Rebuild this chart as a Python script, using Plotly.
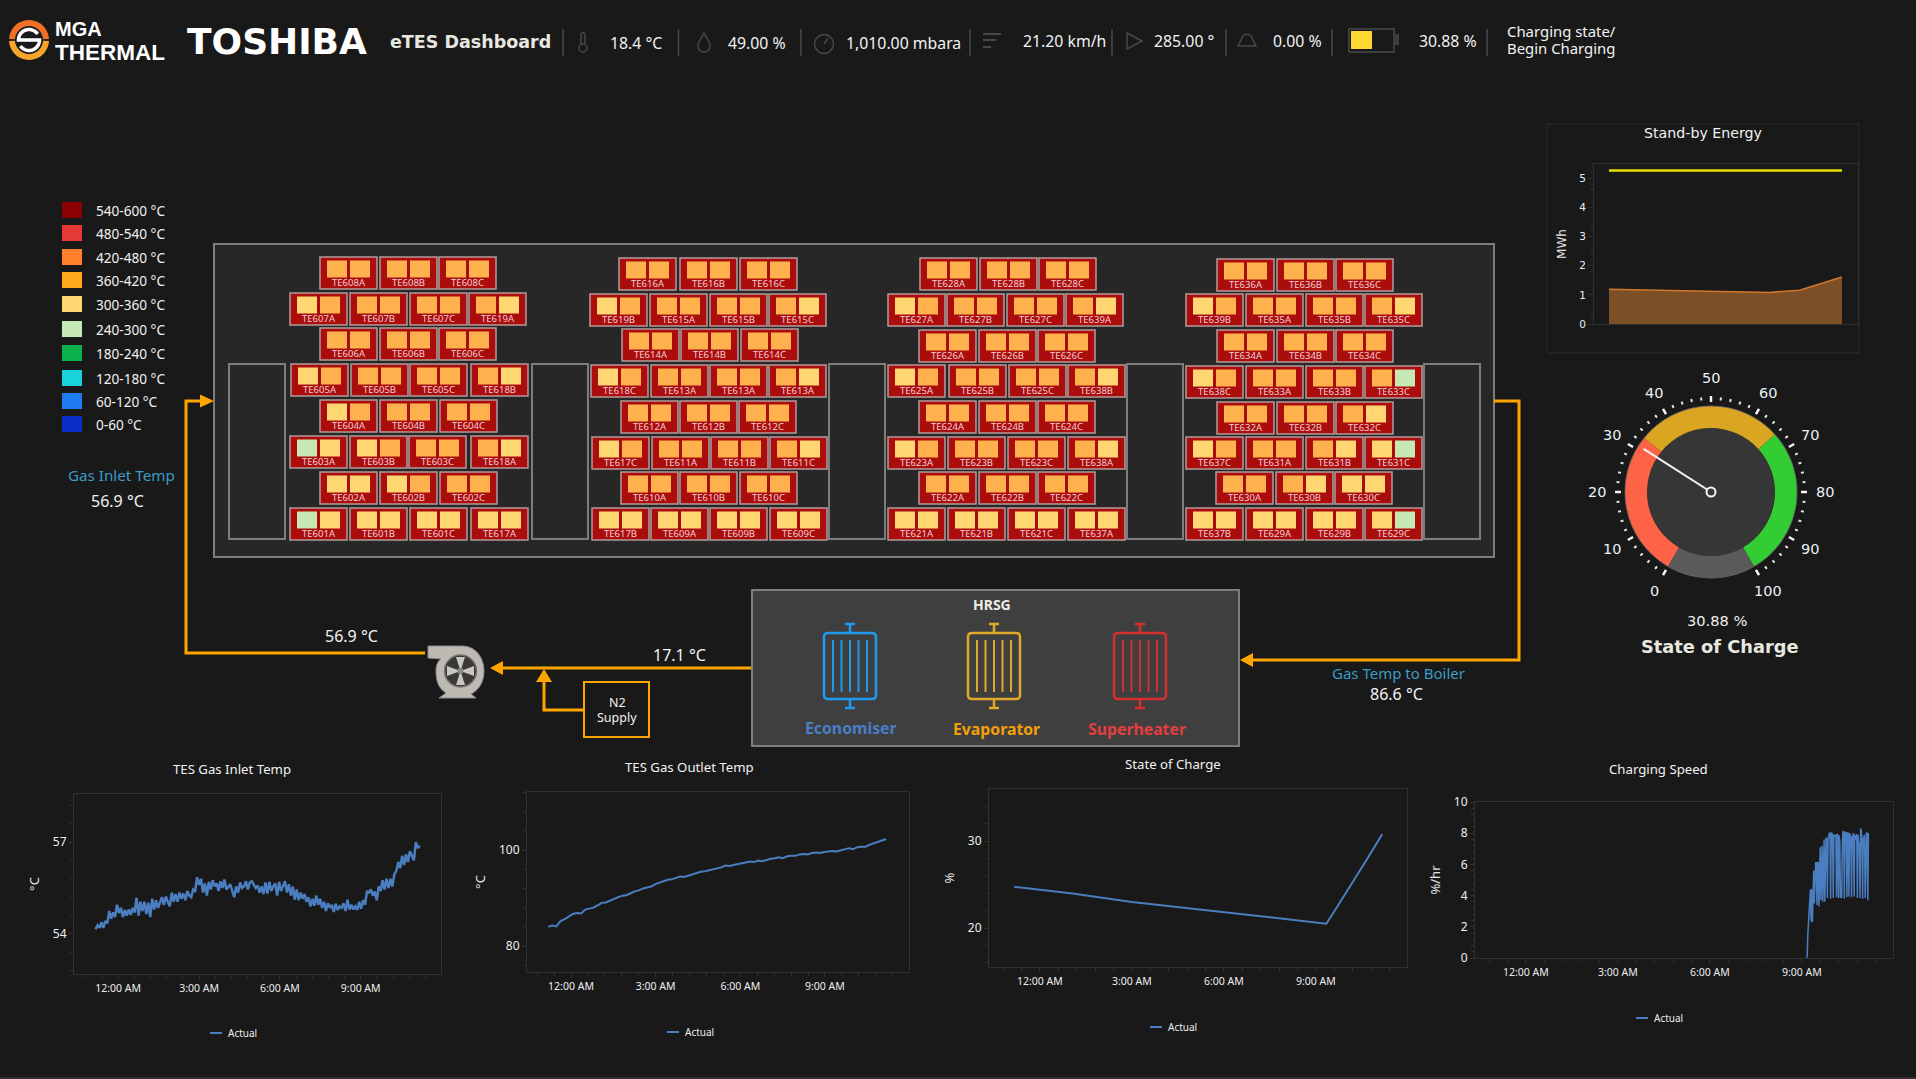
import math
import pandas as pd
import plotly.graph_objects as go

W, H = 1916, 1079
BG = "#191919"
SANS = "Noto Sans"
WIDE = "DejaVu Sans"

# ---------- data ----------
LEGEND_LABELS = ["540-600 °C", "480-540 °C", "420-480 °C", "360-420 °C", "300-360 °C",
                 "240-300 °C", "180-240 °C", "120-180 °C", "60-120 °C", "0-60 °C"]
LEGEND_COLORS = ["#8B0000", "#E53935", "#FF7F2A", "#FFA91F", "#FFD671",
                 "#C6E8B4", "#0DB14B", "#19D3DA", "#1E7CF0", "#0A2FC8"]
BAND_COLORS = {"O": "#FFB14E", "Y": "#FFD671", "G": "#C6E8B4"}

TAGS_BANK1 = [["TE608A", "TE608B", "TE608C"], ["TE607A", "TE607B", "TE607C", "TE619A"],
              ["TE606A", "TE606B", "TE606C"], ["TE605A", "TE605B", "TE605C", "TE618B"],
              ["TE604A", "TE604B", "TE604C"], ["TE603A", "TE603B", "TE603C", "TE618A"],
              ["TE602A", "TE602B", "TE602C"], ["TE601A", "TE601B", "TE601C", "TE617A"]]
BANDS_BANK1 = [["OO", "OO", "OO"], ["YO", "OO", "OO", "OY"], ["OO", "OO", "OO"], ["YO", "OO", "OO", "OY"],
               ["YO", "OO", "OO"], ["GY", "YO", "OO", "OY"], ["YY", "YO", "OO"], ["GY", "YY", "YY", "YY"]]
TAGS_BANK2 = [["TE616A", "TE616B", "TE616C"], ["TE619B", "TE615A", "TE615B", "TE615C"],
              ["TE614A", "TE614B", "TE614C"], ["TE618C", "TE613A", "TE613A", "TE613A"],
              ["TE612A", "TE612B", "TE612C"], ["TE617C", "TE611A", "TE611B", "TE611C"],
              ["TE610A", "TE610B", "TE610C"], ["TE617B", "TE609A", "TE609B", "TE609C"]]
BANDS_BANK2 = [["OO", "OO", "OO"], ["YO", "OO", "OO", "OY"], ["OO", "OO", "OO"], ["YO", "OO", "OO", "OY"],
               ["OO", "OO", "OO"], ["YO", "OO", "OO", "OY"], ["OO", "OO", "OO"], ["YY", "YY", "YY", "YY"]]
TAGS_BANK3 = [["TE628A", "TE628B", "TE628C"], ["TE627A", "TE627B", "TE627C", "TE639A"],
              ["TE626A", "TE626B", "TE626C"], ["TE625A", "TE625B", "TE625C", "TE638B"],
              ["TE624A", "TE624B", "TE624C"], ["TE623A", "TE623B", "TE623C", "TE638A"],
              ["TE622A", "TE622B", "TE622C"], ["TE621A", "TE621B", "TE621C", "TE637A"]]
BANDS_BANK3 = [["OO", "OO", "OO"], ["YO", "OO", "OO", "OY"], ["OO", "OO", "OO"], ["YO", "OO", "OO", "OY"],
               ["OO", "OO", "OO"], ["YO", "OO", "OO", "OY"], ["OO", "OO", "OO"], ["YY", "YY", "YY", "YY"]]
TAGS_BANK4 = [["TE636A", "TE636B", "TE636C"], ["TE639B", "TE635A", "TE635B", "TE635C"],
              ["TE634A", "TE634B", "TE634C"], ["TE638C", "TE633A", "TE633B", "TE633C"],
              ["TE632A", "TE632B", "TE632C"], ["TE637C", "TE631A", "TE631B", "TE631C"],
              ["TE630A", "TE630B", "TE630C"], ["TE637B", "TE629A", "TE629B", "TE629C"]]
BANDS_BANK4 = [["OO", "OO", "OO"], ["YO", "OO", "OO", "OY"], ["OO", "OO", "OO"], ["YO", "OO", "OO", "OG"],
               ["OO", "OO", "OY"], ["YO", "OO", "OY", "YG"], ["OO", "OY", "YY"], ["YY", "YY", "YY", "YG"]]

STANDBY_HOURS = [0, 2.17, 5.13, 7.93, 9.41, 11.5]
STANDBY_ENERGY = [1.195, 1.16, 1.11, 1.085, 1.16, 1.61]
STANDBY_LIMIT = [5.27, 5.27, 5.27, 5.27, 5.27, 5.27]

SOC_NOW = 30.88
GAUGE_BANDS = [33, 33, 34, 20]
GAUGE_COLORS = ["#FF6347", "#DAA520", "#32CD32", "#5A5A5A"]

INLET_TEMP = [54.15, 54.28, 54.2, 54.38, 54.2, 54.42, 54.35, 54.75, 54.5, 54.7, 54.55,
              54.95, 54.68, 54.85, 54.55, 54.78, 54.6, 54.8, 54.62, 54.85, 54.7, 55.18, 54.6, 55.05, 54.75,
              55.05, 54.65, 55.02, 54.55, 55.15, 54.8, 55.1, 54.85, 55.05, 55.2, 54.95, 55.22, 55.05, 54.9,
              55.35, 55.05, 55.3, 55.05, 55.35, 55.15, 55.32, 55.1, 55.4, 55.25, 55.2, 55.45, 55.4, 55.85,
              55.6, 55.8, 55.35, 55.65, 55.25, 55.7, 55.45, 55.75, 55.55, 55.65, 55.4, 55.72, 55.5, 55.78,
              55.45, 55.55, 55.62, 55.4, 55.2, 55.55, 55.35, 55.68, 55.5, 55.55, 55.72, 55.45, 55.68, 55.72,
              55.6, 55.5, 55.58, 55.35, 55.55, 55.3, 55.68, 55.32, 55.7, 55.4, 55.55, 55.65, 55.25, 55.7,
              55.4, 55.55, 55.72, 55.35, 55.62, 55.25, 55.55, 55.12, 55.45, 55.1, 55.35, 55.15, 55.3, 55.05,
              55.2, 54.9, 55.15, 54.92, 55.25, 54.95, 55.15, 54.85, 55.05, 54.75, 55.0, 54.85, 54.95, 54.72,
              54.98, 54.78, 54.9, 54.85, 55.0, 54.75, 55.12, 54.8, 54.95, 54.8, 54.9, 54.78, 55.05, 54.82,
              55.1, 54.95, 55.4, 55.35, 55.45, 55.25, 55.38, 55.1, 55.55, 55.4, 55.75, 55.45, 55.8, 55.5,
              55.8, 55.55, 55.95, 56.05, 56.35, 56.15, 56.55, 56.25, 56.6, 56.35, 56.7, 56.55, 56.4, 57.0, 56.8, 56.88]
OUTLET_TEMP = [84.0, 84.3, 84.1, 85.2, 85.6, 86.1, 86.7, 86.9, 86.8, 87.6, 87.8, 88.0, 88.5, 89.0, 89.1, 89.5,
               89.9, 90.2, 90.5, 90.6, 91.0, 91.4, 91.6, 92.0, 92.2, 92.4, 92.9, 93.2, 93.5, 93.8, 93.9, 94.2,
               94.5, 94.4, 94.7, 95.0, 95.3, 95.5, 95.6, 95.8, 96.1, 96.3, 96.4, 96.8, 96.7, 96.9, 97.1, 97.3,
               97.5, 97.6, 97.5, 97.8, 97.7, 98.0, 98.2, 98.3, 98.5, 98.3, 98.7, 98.8, 98.8, 99.1, 99.2, 99.1,
               99.4, 99.5, 99.4, 99.6, 99.7, 99.8, 99.7, 99.9, 100.2, 100.4, 100.2, 100.6, 100.7, 100.7, 101.1,
               101.4, 101.7, 102.0, 102.3]
SOC_HOURS = [-0.84, 1, 3, 5, 7, 9.34, 9.74, 10.34, 10.7, 11.16]
SOC_VALUES = [24.75, 24.0, 23.0, 22.2, 21.4, 20.5, 22.7, 26.0, 28.1, 30.77]
SPEED_VALUES = [0, 0.1, 1.5, 2.2, 3.0, 3.8, 4.4, 2.35, 4.4, 2.3, 5.4, 5.6, 3.5, 5.9, 6.1, 6.1, 3.4, 6.1, 6.15, 3.3, 7.0,
                7.1, 3.7, 7.15, 7.2, 3.6, 7.2, 7.6, 3.6, 7.6, 7.7, 7.65, 3.85, 7.6, 7.9, 8.0, 8.0, 3.8, 8.05, 8.0, 7.9,
                3.85, 7.9, 7.85, 7.8, 7.9, 3.9, 7.95, 7.9, 3.85, 7.85, 7.5, 3.9, 3.9, 3.9, 7.5, 8.15, 8.0, 3.8, 8.1,
                8.05, 8.0, 3.9, 8.05, 8.0, 3.95, 8.0, 7.9, 7.7, 3.9, 7.7, 7.9, 8.0, 3.95, 7.9, 7.7, 7.6, 7.95, 3.85,
                7.9, 7.3, 7.4, 3.85, 8.3, 8.2, 7.6, 3.8, 7.6, 7.7, 7.9, 3.85, 7.9, 8.05, 8.0, 3.7, 8.0]

# ---------- layout tables (pixel positions of the schematic) ----------
BANK1_TOPS = [257, 293, 328, 364, 400, 436, 472, 508]
BANK1_LEFTS = [[320, 380, 439], [290, 350, 410, 469], [320, 380, 439], [291, 351, 410, 471],
               [320, 380, 440], [290, 350, 409, 471], [320, 380, 440], [290, 350, 410, 471]]
BANK2_TOPS = [258, 294, 329, 365, 401, 437, 472, 508]
BANK2_LEFTS = [[619, 680, 740], [590, 650, 710, 769], [622, 681, 741], [591, 651, 710, 769],
               [621, 680, 739], [592, 652, 711, 770], [621, 680, 740], [592, 651, 710, 770]]
BANK3_TOPS = [258, 294, 330, 365, 401, 437, 472, 508]
BANK3_LEFTS = [[920, 980, 1039], [888, 947, 1007, 1066], [919, 979, 1038], [888, 949, 1009, 1068],
               [919, 979, 1038], [888, 948, 1008, 1068], [919, 979, 1038], [888, 948, 1008, 1068]]
BANK4_TOPS = [259, 294, 330, 366, 402, 437, 472, 508]
BANK4_LEFTS = [[1217, 1277, 1336], [1186, 1246, 1306, 1365], [1217, 1277, 1336], [1186, 1246, 1306, 1365],
               [1217, 1277, 1336], [1186, 1246, 1306, 1365], [1216, 1276, 1335], [1186, 1246, 1306, 1365]]

shapes, notes = [], []


def rect(x0, y0, x1, y1, fill=None, line=None, lw=1, layer="below"):
    shapes.append(dict(type="rect", xref="x", yref="y", x0=x0, y0=y0, x1=x1, y1=y1, layer=layer,
                       fillcolor=fill or "rgba(0,0,0,0)",
                       line=dict(color=line or "rgba(0,0,0,0)", width=lw if line else 0)))


def path(d, fill=None, line=None, lw=1, layer="below"):
    shapes.append(dict(type="path", xref="x", yref="y", path=d, layer=layer,
                       fillcolor=fill or "rgba(0,0,0,0)",
                       line=dict(color=line or "rgba(0,0,0,0)", width=lw if line else 0)))


def poly(points, close=False):
    d = "M" + " L".join(f"{a:.2f},{b:.2f}" for a, b in points)
    return d + (" Z" if close else "")


def arc(cx, cy, r, a0, a1, n=24):
    # angles in degrees, measured clockwise from the top
    return [(cx + r * math.sin(math.radians(a0 + (a1 - a0) * i / n)),
             cy - r * math.cos(math.radians(a0 + (a1 - a0) * i / n))) for i in range(n + 1)]


def circle(cx, cy, r, fill=None, line=None, lw=1, layer="below"):
    shapes.append(dict(type="circle", xref="x", yref="y", x0=cx - r, y0=cy - r, x1=cx + r, y1=cy + r, layer=layer,
                       fillcolor=fill or "rgba(0,0,0,0)",
                       line=dict(color=line or "rgba(0,0,0,0)", width=lw if line else 0)))


def label(x, y, text, size=14, color="#F2F2F2", family=SANS, bold=False, anchor="center", angle=0):
    notes.append(dict(xref="x", yref="y", x=x, y=y, showarrow=False, xanchor=anchor, yanchor="middle",
                      text=f"<b>{text}</b>" if bold else text, textangle=angle,
                      font=dict(size=size, color=color, family=family)))


# ---------- header ----------
LOGO = (29, 40)
ring_top = arc(*LOGO, 20, -87, 87) + arc(*LOGO, 14, 87, -87)
ring_bot = arc(*LOGO, 20, 93, 267) + arc(*LOGO, 14, 267, 93)
path(poly(ring_top, True), fill="#F0702A")
path(poly(ring_bot, True), fill="#F6A52B")
s_path = arc(*LOGO, 10.5, 55, -90) + [(LOGO[0] + 10.5, LOGO[1])] + arc(*LOGO, 10.5, 90, 235)
path(poly(s_path), line="#FFFFFF", lw=3.5)
label(53, 29, "MGA", 20, "#FFFFFF", "Liberation Sans", True, "left")
label(53, 52, "THERMAL", 22.5, "#FFFFFF", "Liberation Sans", True, "left")
label(277, 41, "TOSHIBA", 36, "#FFFFFF", WIDE, True)
label(470, 42, "eTES Dashboard", 17.5, "#E8E8E0", WIDE, True)
for sx in [563, 678.5, 801, 970, 1112, 1226, 1332, 1487]:
    path(f"M{sx},29 L{sx},56", line="#4A4A4A", lw=1.5)
ICON = "#484848"
circle(583, 48, 4, line=ICON, lw=1.5)
path("M581,44 L581,35 C581,32 585,32 585,35 L585,44", line=ICON, lw=1.5)
path("M704,33 C701,39 698,42 698,46 C698,54 710,54 710,46 C710,42 707,39 704,33 Z", line=ICON, lw=1.5)
circle(824, 44, 9.5, line=ICON, lw=1.5)
path("M824,44 L828,38", line=ICON, lw=1.5)
path("M983,34 L1001,34 M983,40 L996,40 M983,47 L991,47", line=ICON, lw=2)
path("M1127,33 L1142,41 L1127,49 Z", line=ICON, lw=1.5)
path("M1238,46 L1256,46 L1252,38 C1250,33 1244,33 1242,38 Z", line=ICON, lw=1.5)
rect(1349, 29, 1394, 52, line="#3E3E3E", lw=2)
rect(1394, 34, 1399, 45, fill="#3E3E3E")
rect(1351, 31, 1372, 49, fill="#FFD833")
for tx, ty, txt in [(636, 43, "18.4 °C"), (757, 43, "49.00 %"), (903, 43, "1,010.00 mbara"),
                    (1064, 41, "21.20 km/h"), (1184, 41, "285.00 °"), (1297, 41, "0.00 %"), (1448, 41, "30.88 %")]:
    label(tx, ty, txt, 15.8)
label(1505, 31, "Charging state/", 14.9, anchor="left")
label(1505, 48, "Begin Charging", 14.9, anchor="left")

# ---------- temperature legend ----------
for i, (txt, col) in enumerate(zip(LEGEND_LABELS, LEGEND_COLORS)):
    cy = [210, 233, 257, 280, 304, 329, 353, 378, 401, 424][i]
    rect(62, cy - 8, 82, cy + 8, fill=col)
    label(94, cy, txt, 13.6, anchor="left")

# ---------- TES vessel ----------
PIPE = "#FFA500"
rect(214, 244, 1494, 557, fill="#272727", line="#7D7D7D", lw=2)
for bx0, bx1 in [(229, 285), (532, 588), (829, 885), (1127, 1183), (1424, 1480)]:
    rect(bx0, 364, bx1, 539, line="#7D7D7D", lw=2)

tile_x, tile_y, tile_t = [], [], []
banks = [(TAGS_BANK1, BANDS_BANK1, BANK1_TOPS, BANK1_LEFTS), (TAGS_BANK2, BANDS_BANK2, BANK2_TOPS, BANK2_LEFTS),
         (TAGS_BANK3, BANDS_BANK3, BANK3_TOPS, BANK3_LEFTS), (TAGS_BANK4, BANDS_BANK4, BANK4_TOPS, BANK4_LEFTS)]
for tags, bands, tops, lefts in banks:
    for r, top in enumerate(tops):
        for tag, band, left in zip(tags[r], bands[r], lefts[r]):
            rect(left, top, left + 57, top + 32, fill="#AB0D0D", line="#B39C9C", lw=1.5)
            rect(left + 7, top + 3.5, left + 27, top + 20.5, fill=BAND_COLORS[band[0]])
            rect(left + 30, top + 3.5, left + 50, top + 20.5, fill=BAND_COLORS[band[1]])
            tile_x.append(left + 28.5)
            tile_y.append(top + 26.5)
            tile_t.append(tag)

# ---------- pipes ----------
path("M425,653 L186,653 L186,401 L204,401", line=PIPE, lw=3)
path("M214,401 L200,394.5 L200,407.5 Z", fill=PIPE)
path("M1494,401 L1519,401 L1519,660 L1250,660", line=PIPE, lw=3)
path("M1240,660 L1253,653 L1253,667 Z", fill=PIPE)
path("M752,668 L500,668", line=PIPE, lw=3)
path("M490,668 L503,661 L503,675 Z", fill=PIPE)
path("M584,710 L544,710 L544,680", line=PIPE, lw=3)
path("M544,669 L536,682 L552,682 Z", fill=PIPE)
rect(584, 682, 649, 737, line=PIPE, lw=2)
label(617, 702, "N2", 12.5)
label(617, 717, "Supply", 12.5)
label(679, 655, "17.1 °C", 16)
label(351, 636, "56.9 °C", 16)
label(121, 475, "Gas Inlet Temp", 15.2, "#3B9CC4")
label(117, 501, "56.9 °C", 16)
label(1398, 673, "Gas Temp to Boiler", 15, "#3B9CC4")
label(1396, 694, "86.6 °C", 16)

# blower
path("M428,646 L462,646 C476,646 484,658 484,671 C484,684 477,691 471,694 L476,698 L439,698 L446,693 "
     "C438,688 436,680 436,671 C436,665 438,661 441,659 L428,658 Z", fill="#BDBAB4", line="#8C8A86", lw=1)
circle(460.5, 671, 16, fill="#3B3937", line="#77736F", lw=1.5)
path("M460.5,671 L456,657 L465,657 Z M460.5,671 L456,685 L465,685 Z M460.5,671 L447,666 L447,676 Z "
     "M460.5,671 L474,666 L474,676 Z", fill="#C9C7C2")
circle(460.5, 671, 3, fill="#8C8A86")

# ---------- HRSG ----------
rect(752, 590, 1239, 746, fill="#3F3F3F", line="#7D7D7D", lw=2)
label(992, 604, "HRSG", 14, "#EDEDE4", SANS, True)
for cx, col, txt, tcol, ty in [(850, "#1E9BF0", "Economiser", "#4A7EC7", 728),
                               (994, "#E0A92A", "Evaporator", "#F59E0B", 729),
                               (1140, "#D32F2F", "Superheater", "#E53E3E", 729)]:
    shapes.append(dict(type="path", xref="x", yref="y", layer="below", fillcolor="rgba(0,0,0,0)",
                       line=dict(color=col, width=2.5),
                       path=f"M{cx-22},633 L{cx+22},633 Q{cx+26},633 {cx+26},637 L{cx+26},695 Q{cx+26},699 {cx+22},699 "
                            f"L{cx-22},699 Q{cx-26},699 {cx-26},695 L{cx-26},637 Q{cx-26},633 {cx-22},633 Z "
                            f"M{cx},633 L{cx},624 M{cx-5},624 L{cx+5},624 M{cx},699 L{cx},708 M{cx-5},708 L{cx+5},708"))
    for off in (-17, -8.5, 0, 8.5, 17):
        path(f"M{cx+off},640 L{cx+off},692", line=col, lw=2)
    label(cx + (1 if txt == "Economiser" else -3 if txt == "Superheater" else 2), ty, txt, 15.8, tcol, SANS, True)

# ---------- gauge ----------
G = (1711, 492)
circle(*G, 64, fill="#363636")
angle = lambda v: -150 + 3 * v
tx, ty, mx, my = [], [], [], []
for v in range(0, 101, 2):
    a = math.radians(angle(v))
    r0, r1 = (90, 96) if v % 10 == 0 else (92, 95)
    xs, ys = (mx, my) if v % 10 == 0 else (tx, ty)
    xs += [G[0] + r0 * math.sin(a), G[0] + r1 * math.sin(a), None]
    ys += [G[1] - r0 * math.cos(a), G[1] - r1 * math.cos(a), None]
    if v % 10 == 0:
        label(G[0] + 114 * math.sin(a), G[1] - 114 * math.cos(a), str(v), 14.5, "#EAF0F6", WIDE)
circle(*G, 86, line="#6A6A6A", lw=0.8, layer="above")
needle_a = math.radians(angle(SOC_NOW))
path(f"M{G[0]},{G[1]} L{G[0] + 80 * math.sin(needle_a):.1f},{G[1] - 80 * math.cos(needle_a):.1f}",
     line="#F4F4F4", lw=2, layer="above")
circle(*G, 4.5, fill="#363636", line="#F4F4F4", lw=2, layer="above")
label(1717, 620, f"{SOC_NOW:.2f} %", 14.6, "#F0F0F0", WIDE)
label(1719, 646, "State of Charge", 17.8, "#E8E8E0", WIDE, True)

# ---------- figure ----------
fig = go.Figure()
fig.add_trace(go.Scatter(x=tile_x, y=tile_y, text=tile_t, mode="text", showlegend=False, hoverinfo="skip",
                         textfont=dict(size=9.5, color="#F2CDD6", family=SANS), xaxis="x", yaxis="y"))
fig.add_trace(go.Scatter(x=tx, y=ty, mode="lines", line=dict(color="#E8E8E8", width=2), showlegend=False,
                         hoverinfo="skip", xaxis="x", yaxis="y"))
fig.add_trace(go.Scatter(x=mx, y=my, mode="lines", line=dict(color="#F4F4F4", width=2.5), showlegend=False,
                         hoverinfo="skip", xaxis="x", yaxis="y"))
fig.add_trace(go.Pie(values=GAUGE_BANDS, marker=dict(colors=GAUGE_COLORS, line=dict(width=0)), hole=64 / 86,
                     rotation=-150, direction="clockwise", sort=False, textinfo="none", showlegend=False,
                     hoverinfo="skip", domain=dict(x=[(G[0] - 86) / W, (G[0] + 86) / W],
                                                   y=[1 - (G[1] + 86) / H, 1 - (G[1] - 86) / H])))

T0 = pd.Timestamp("2023-01-02 00:00")
stamp = lambda h: T0 + pd.Timedelta(hours=h)
span = lambda a, b, n: pd.date_range(stamp(a), stamp(b), periods=n)
LINE = "#4A7EC0"
AX = "#303030"
TICKFONT = dict(size=10.5, color="#EDEDED", family=SANS)

layout = dict(
    template="none",
    width=W, height=H, autosize=False, margin=dict(l=0, r=0, t=0, b=0, pad=0),
    paper_bgcolor=BG, plot_bgcolor="rgba(0,0,0,0)", font=dict(family=SANS, color="#EDEDED"),
    showlegend=False,
    xaxis=dict(domain=[0, 1], range=[0, W], visible=False, fixedrange=True, automargin=False),
    yaxis=dict(domain=[0, 1], range=[H, 0], visible=False, fixedrange=True, automargin=False),
    shapes=shapes, annotations=notes,
)


def chart(n, box, hrange, yrange, ydtick, yminor, title, title_xy, ytitle, xseries, yseries, key_xy, standoff, lw=2):
    x0, y0, x1, y1 = box
    layout[f"xaxis{n}"] = dict(
        domain=[x0 / W, x1 / W], range=[stamp(hrange[0]), stamp(hrange[1])], type="date", anchor=f"y{n}", automargin=False,
        tick0=T0, dtick=3 * 3600000, tickformat="%-I:%M %p", showline=True, mirror=True, linecolor=AX, linewidth=1,
        ticks="outside", ticklen=4, tickcolor=AX, tickfont=TICKFONT, showgrid=False, zeroline=False,
        minor=dict(dtick=2160000, tick0=T0, ticks="outside", ticklen=3, tickcolor=AX, showgrid=False), fixedrange=True)
    layout[f"yaxis{n}"] = dict(
        domain=[1 - y1 / H, 1 - y0 / H], range=yrange, anchor=f"x{n}", dtick=ydtick, showline=True, mirror=True, automargin=False,
        linecolor=AX, linewidth=1, ticks="outside", ticklen=4, tickcolor=AX, tickfont=dict(size=12, color="#EDEDED", family=SANS),
        showgrid=False, zeroline=False, minor=dict(dtick=yminor, ticks="outside", ticklen=3, tickcolor=AX, showgrid=False),
        title=dict(text=ytitle, font=dict(size=13, color="#E4E4E4", family=SANS), standoff=standoff), fixedrange=True)
    fig.add_trace(go.Scatter(x=xseries, y=yseries, mode="lines", name="Actual", line=dict(color=LINE, width=lw),
                             xaxis=f"x{n}", yaxis=f"y{n}", showlegend=False))
    label(title_xy[0], title_xy[1], title, 13.2, "#F2F2F2")
    path(f"M{key_xy[0]},{key_xy[1]} L{key_xy[0] + 12},{key_xy[1]}", line=LINE, lw=2)
    label(key_xy[0] + 16, key_xy[1], "Actual", 10, "#EDEDED", SANS, False, "left")


chart(2, (74, 794, 441, 974), (-1.64, 11.98), [52.69, 58.57], 3, 0.6, "TES Gas Inlet Temp", (232, 769), "°C",
      span(-0.84, 11.19, len(INLET_TEMP)), INLET_TEMP, (210, 1033), 10, 2.5)
chart(3, (527, 792, 909, 972), (-1.56, 11.98), [74.6, 112.1], 20, 4, "TES Gas Outlet Temp", (689, 767), "°C",
      span(-0.81, 11.17, len(OUTLET_TEMP)), OUTLET_TEMP, (667, 1032), 10)
chart(4, (989, 789, 1407, 967), (-1.66, 11.97), [15.52, 35.98], 10, 2, "State of Charge", (1173, 764), "%",
      [stamp(h) for h in SOC_HOURS], SOC_VALUES, (1150, 1027), 10)
chart(5, (1475, 802, 1893, 958), (-1.66, 11.97), [0, 10], 2, 0.4, "Charging Speed", (1658, 769), "%/hr",
      span(9.15, 11.17, len(SPEED_VALUES)), SPEED_VALUES, (1636, 1018), 10, 1.5)

# stand-by energy
rect(1547, 124, 1859, 353, line="#2C2C2C", lw=1)
layout["xaxis6"] = dict(domain=[1594 / W, 1858 / W], range=[-0.74, 12.29], anchor="y6", showticklabels=False, ticks="", automargin=False,
                        showline=True, mirror=True, linecolor=AX, showgrid=False, zeroline=False, fixedrange=True)
layout["yaxis6"] = dict(domain=[1 - 324 / H, 1 - 164 / H], range=[0, 5.49], anchor="x6", dtick=1, showline=True, mirror=True, automargin=False,
                        linecolor=AX, ticks="outside", ticklen=5, tickcolor=AX, tickfont=dict(size=10.5, color="#E8EEF4", family=WIDE),
                        showgrid=False, zeroline=False, minor=dict(dtick=0.2, ticks="outside", ticklen=2, tickcolor=AX, showgrid=False),
                        title=dict(text="MWh", font=dict(size=12, color="#E4E4E4", family=WIDE), standoff=10), fixedrange=True)
fig.add_trace(go.Scatter(x=STANDBY_HOURS, y=STANDBY_ENERGY, mode="lines", fill="tozeroy", fillcolor="#7D4F26",
                         line=dict(color="#D2782C", width=1.5), showlegend=False, xaxis="x6", yaxis="y6"))
fig.add_trace(go.Scatter(x=STANDBY_HOURS, y=STANDBY_LIMIT, mode="lines", line=dict(color="#E6E000", width=2.5),
                         showlegend=False, xaxis="x6", yaxis="y6"))
label(1703, 133, "Stand-by Energy", 14.2, "#F2F2F2", WIDE)
rect(0, 1077, W, 1079, fill="#2E2E2E")

fig.update_layout(**layout)
fig.write_html("out.html", config=dict(displayModeBar=False),
               post_script="document.body.style.margin='0';document.body.style.overflow='hidden';")
